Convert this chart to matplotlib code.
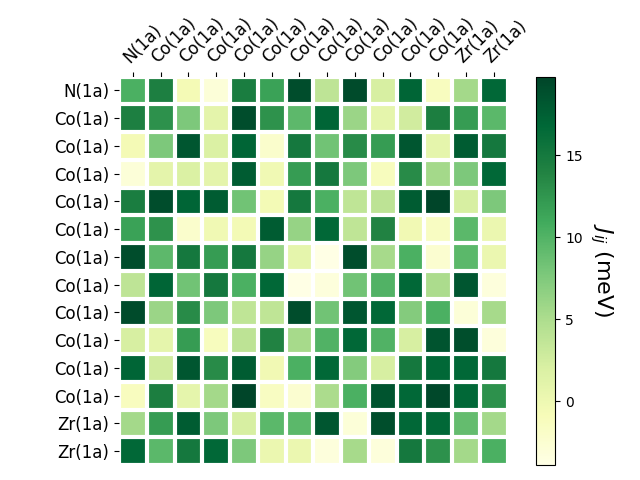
import numpy as np
import matplotlib
matplotlib.use('Agg')
import matplotlib.pyplot as plt

# site labels
labels = ['N(1a)'] + ['Co(1a)'] * 11 + ['Zr(1a)'] * 2

# exchange couplings J_ij in meV (symmetric)
row0 = [10.3, 14.3, -0.6, -3.0, 14.6, 11.5, 19.0, 3.8, 19.2, 2.2, 17.0, -1.4, 5.5, 16.7]
row1 = [14.3, 12.8, 7.6, 1.0, 19.0, 12.7, 9.4, 17.0, 6.0, 0.8, 2.5, 14.4, 12.0, 9.5]
row2 = [-0.6, 7.6, 18.3, 1.8, 17.0, -2.2, 15.0, 8.3, 13.3, 12.0, 18.3, 0.8, 17.8, 15.0]
row3 = [-3.0, 1.0, 1.8, 1.0, 17.8, -0.2, 12.0, 15.0, 7.6, -1.3, 13.3, 5.5, 7.6, 16.7]
row4 = [14.6, 19.0, 17.0, 17.8, 8.3, -0.5, 15.0, 10.3, 3.7, 3.9, 17.8, 19.8, 2.2, 7.6]
row5 = [11.5, 12.7, -2.2, -0.2, -0.5, 17.8, 6.2, 16.7, 3.7, 14.0, -0.3, -1.5, 9.5, 0.2]
row6 = [19.0, 9.4, 15.0, 12.0, 15.0, 6.2, 0.8, -3.9, 19.0, 5.3, 10.3, -2.5, 9.5, 0.2]
row7 = [3.8, 17.0, 8.3, 15.0, 10.3, 16.7, -3.9, -3.3, 8.3, 10.0, 16.7, 5.0, 18.3, -3.3]
row8 = [19.2, 6.0, 13.3, 7.6, 3.7, 3.7, 19.0, 8.3, 18.3, 16.7, 7.3, 10.3, -3.0, 5.3]
row9 = [2.2, 0.8, 12.0, -1.3, 3.9, 14.0, 5.3, 10.0, 16.7, 10.0, 2.2, 18.5, 18.9, -3.2]
row10 = [17.0, 2.5, 18.3, 13.3, 17.8, -0.3, 10.3, 16.7, 7.3, 2.2, 15.0, 16.7, 16.7, 15.0]
row11 = [-1.4, 14.4, 0.8, 5.5, 19.8, -1.5, -2.5, 5.0, 10.3, 18.5, 16.7, 19.5, 16.7, 12.8]
row12 = [5.5, 12.0, 17.8, 7.6, 2.2, 9.5, 9.5, 18.3, -3.0, 18.9, 16.7, 16.7, 9.0, 5.5]
row13 = [16.7, 9.5, 15.0, 16.7, 7.6, 0.2, 0.2, -3.3, 5.3, -3.2, 15.0, 12.8, 5.5, 10.3]

J = np.array([row0, row1, row2, row3, row4, row5, row6, row7,
              row8, row9, row10, row11, row12, row13])
n = len(labels)

fig, ax = plt.subplots()
im = ax.imshow(J, cmap='YlGn')

cbar = fig.colorbar(im, ax=ax)
cbar.ax.set_ylabel(r'$J_{ij}$ (meV)', rotation=-90, va='bottom', fontsize=16)

ax.set_xticks(np.arange(n), labels=labels, fontsize=12)
ax.set_yticks(np.arange(n), labels=labels, fontsize=12)
ax.tick_params(top=True, bottom=False, labeltop=True, labelbottom=False)
plt.setp(ax.get_xticklabels(), rotation=45, ha='left', rotation_mode='anchor')

# white grid between cells
ax.spines[:].set_visible(False)
ax.set_xticks(np.arange(n + 1) - .5, minor=True)
ax.set_yticks(np.arange(n + 1) - .5, minor=True)
ax.grid(which='minor', color='w', linestyle='-', linewidth=3)
ax.tick_params(which='minor', top=False, bottom=False, left=False)

fig.tight_layout()
fig.savefig('out.png')
